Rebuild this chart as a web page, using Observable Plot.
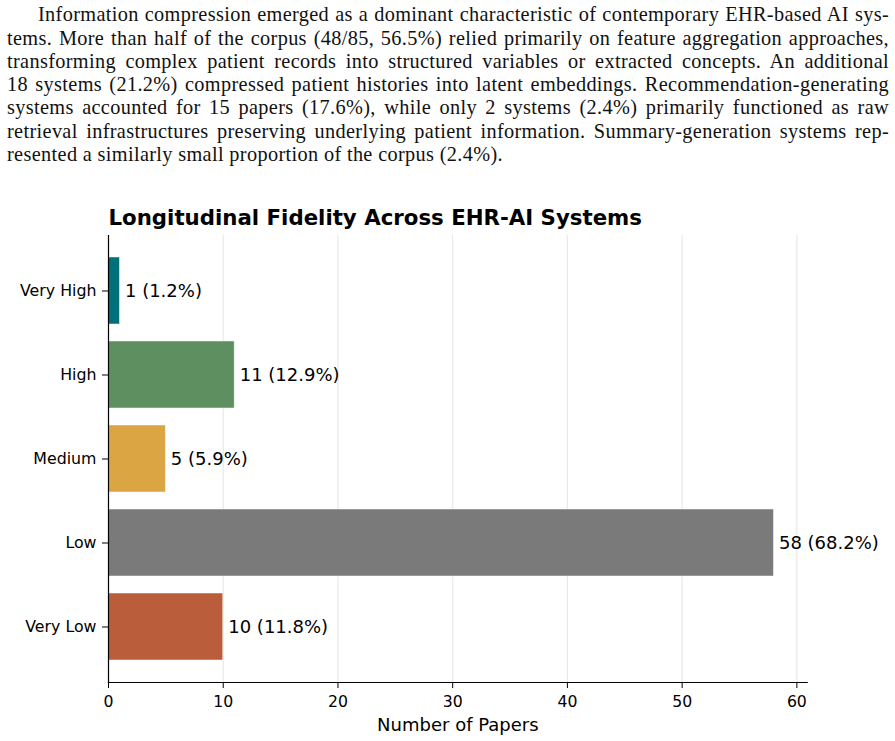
<!DOCTYPE html>
<html><head><meta charset="utf-8">
<script src="https://cdn.jsdelivr.net/npm/d3@7"></script>
<script src="https://cdn.jsdelivr.net/npm/@observablehq/plot@0.6"></script>
<style>
html,body{margin:0;padding:0;background:#fff;width:895px;height:741px;overflow:hidden;}
#para{position:absolute;left:7px;top:3.3px;width:882px;font-family:"Liberation Serif",serif;font-size:20.3px;line-height:23.3px;color:#111;letter-spacing:0.35px;}
#para div{text-align:justify;text-align-last:justify;}
#para div.last{text-align-last:left;}
#para div.first{padding-left:31px;}
#chart{position:absolute;left:0;top:200px;}
</style></head>
<body>
<div id="para"></div>
<div id="chart"></div>
<script>
// Paragraph lines (as typeset in the reference)
const paragraphLines = [
  "Information compression emerged as a dominant characteristic of contemporary EHR-based AI sys-",
  "tems. More than half of the corpus (48/85, 56.5%) relied primarily on feature aggregation approaches,",
  "transforming complex patient records into structured variables or extracted concepts. An additional",
  "18 systems (21.2%) compressed patient histories into latent embeddings. Recommendation-generating",
  "systems accounted for 15 papers (17.6%), while only 2 systems (2.4%) primarily functioned as raw",
  "retrieval infrastructures preserving underlying patient information. Summary-generation systems rep-",
  "resented a similarly small proportion of the corpus (2.4%)."
];

// Chart data
const title = "Longitudinal Fidelity Across EHR-AI Systems";
const xLabel = "Number of Papers";
const categories = ["Very High", "High", "Medium", "Low", "Very Low"];
const counts = [1, 11, 5, 58, 10];
const percents = [1.2, 12.9, 5.9, 68.2, 11.8];
const colors = ["#00717a", "#5e8f61", "#dba543", "#7a7a7a", "#b95d3a"];
const xTicks = [0, 10, 20, 30, 40, 50, 60];

const para = document.getElementById("para");
paragraphLines.forEach((t, i) => {
  const d = document.createElement("div");
  d.textContent = t;
  if (i === 0) d.className = "first";
  if (i === paragraphLines.length - 1) d.className = "last";
  para.appendChild(d);
});

const data = categories.map((c, i) => ({category: c, count: counts[i], pct: percents[i]}));

const chart = Plot.plot({
  width: 895,
  height: 541,
  marginTop: 35,
  marginBottom: 59,
  marginLeft: 108,
  marginRight: 88.3,
  style: {fontFamily: '"DejaVu Sans", sans-serif', fontSize: "15.7px", color: "#000", background: "#fff"},
  x: {domain: [0, 60.9], ticks: xTicks},
  y: {domain: categories, paddingInner: 0.2, paddingOuter: 0.24},
  color: {domain: categories, range: colors},
  marks: [
    Plot.gridX(xTicks, {stroke: "#e8e8e8", strokeOpacity: 1, strokeWidth: 1.2}),
    Plot.barX(data, {y: "category", x: "count", fill: "category", stroke: "white", strokeWidth: 0.8, strokeOpacity: 0.6}),
    Plot.text(data, {y: "category", x: "count", text: d => `${d.count} (${d.pct.toFixed(1)}%)`, textAnchor: "start", dx: 5, fontSize: 18, fill: "#000"}),
    Plot.axisX({ticks: xTicks, tickSize: 6, tickPadding: 7, label: null, fontSize: 15.7, stroke: "#000"}),
    Plot.axisY({tickSize: 6, tickPadding: 6, label: null, fontSize: 15.8, stroke: "#000"}),
    Plot.frame({anchor: "left", stroke: "#000", strokeWidth: 1.2}),
    Plot.frame({anchor: "bottom", stroke: "#000", strokeWidth: 1.2}),
    Plot.text([xLabel], {frameAnchor: "bottom", dy: 43, lineAnchor: "middle", fontSize: 18, fill: "#000"}),
    Plot.text([title], {frameAnchor: "top-left", textAnchor: "start", lineAnchor: "middle", dy: -17.5, fontSize: 21.3, fontWeight: "bold", fill: "#000"})
  ]
});
document.getElementById("chart").appendChild(chart);
</script>
</body></html>
